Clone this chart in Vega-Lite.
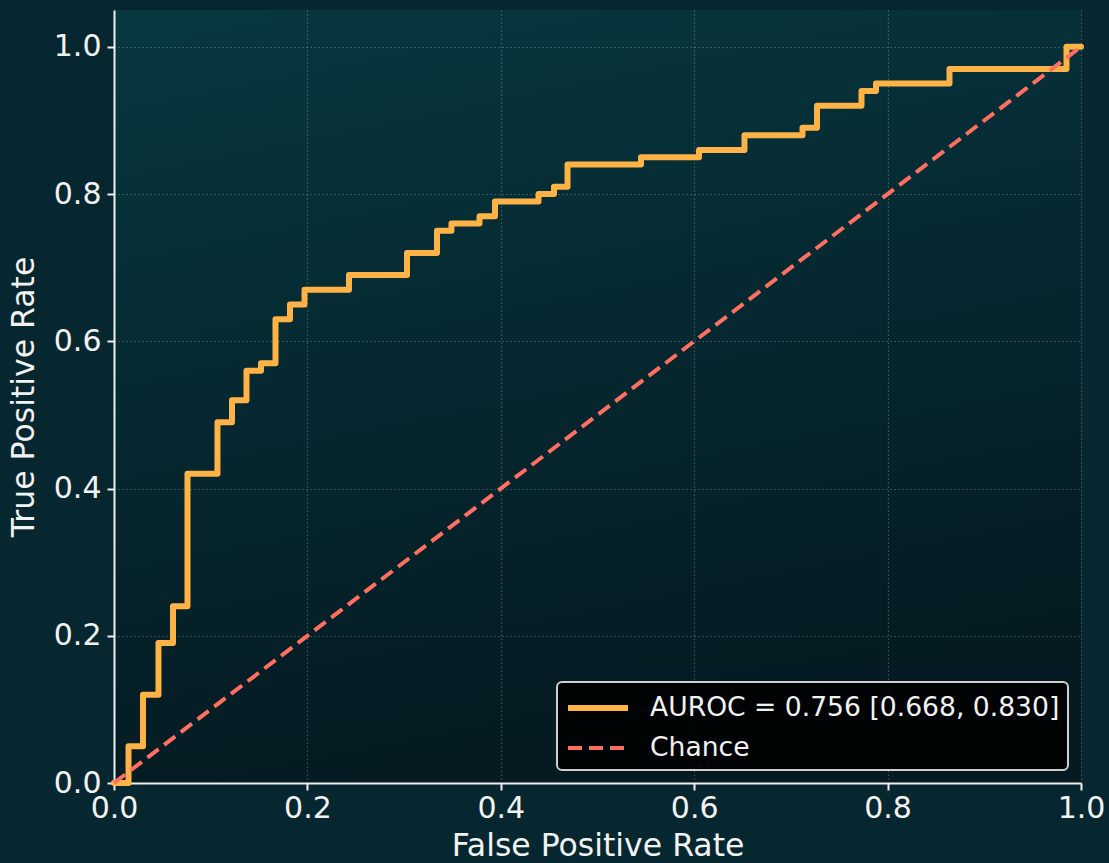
{
  "$schema": "https://vega.github.io/schema/vega-lite/v6.json",
  "width": 967,
  "height": 773,
  "autosize": {"type": "none"},
  "padding": {"left": 114, "top": 10, "right": 28, "bottom": 80},
  "background": "#06272f",
  "datasets": {
    "roc": [
      {"fpr": 0.0, "tpr": 0.0, "series": "AUROC = 0.756 [0.668, 0.830]"},
      {"fpr": 0.015, "tpr": 0.05, "series": "AUROC = 0.756 [0.668, 0.830]"},
      {"fpr": 0.030, "tpr": 0.12, "series": "AUROC = 0.756 [0.668, 0.830]"},
      {"fpr": 0.046, "tpr": 0.19, "series": "AUROC = 0.756 [0.668, 0.830]"},
      {"fpr": 0.061, "tpr": 0.24, "series": "AUROC = 0.756 [0.668, 0.830]"},
      {"fpr": 0.076, "tpr": 0.42, "series": "AUROC = 0.756 [0.668, 0.830]"},
      {"fpr": 0.107, "tpr": 0.49, "series": "AUROC = 0.756 [0.668, 0.830]"},
      {"fpr": 0.122, "tpr": 0.52, "series": "AUROC = 0.756 [0.668, 0.830]"},
      {"fpr": 0.137, "tpr": 0.56, "series": "AUROC = 0.756 [0.668, 0.830]"},
      {"fpr": 0.152, "tpr": 0.57, "series": "AUROC = 0.756 [0.668, 0.830]"},
      {"fpr": 0.167, "tpr": 0.63, "series": "AUROC = 0.756 [0.668, 0.830]"},
      {"fpr": 0.182, "tpr": 0.65, "series": "AUROC = 0.756 [0.668, 0.830]"},
      {"fpr": 0.197, "tpr": 0.67, "series": "AUROC = 0.756 [0.668, 0.830]"},
      {"fpr": 0.243, "tpr": 0.69, "series": "AUROC = 0.756 [0.668, 0.830]"},
      {"fpr": 0.303, "tpr": 0.72, "series": "AUROC = 0.756 [0.668, 0.830]"},
      {"fpr": 0.334, "tpr": 0.75, "series": "AUROC = 0.756 [0.668, 0.830]"},
      {"fpr": 0.349, "tpr": 0.76, "series": "AUROC = 0.756 [0.668, 0.830]"},
      {"fpr": 0.378, "tpr": 0.77, "series": "AUROC = 0.756 [0.668, 0.830]"},
      {"fpr": 0.394, "tpr": 0.79, "series": "AUROC = 0.756 [0.668, 0.830]"},
      {"fpr": 0.439, "tpr": 0.80, "series": "AUROC = 0.756 [0.668, 0.830]"},
      {"fpr": 0.455, "tpr": 0.81, "series": "AUROC = 0.756 [0.668, 0.830]"},
      {"fpr": 0.469, "tpr": 0.84, "series": "AUROC = 0.756 [0.668, 0.830]"},
      {"fpr": 0.545, "tpr": 0.85, "series": "AUROC = 0.756 [0.668, 0.830]"},
      {"fpr": 0.605, "tpr": 0.86, "series": "AUROC = 0.756 [0.668, 0.830]"},
      {"fpr": 0.652, "tpr": 0.88, "series": "AUROC = 0.756 [0.668, 0.830]"},
      {"fpr": 0.712, "tpr": 0.89, "series": "AUROC = 0.756 [0.668, 0.830]"},
      {"fpr": 0.727, "tpr": 0.92, "series": "AUROC = 0.756 [0.668, 0.830]"},
      {"fpr": 0.773, "tpr": 0.94, "series": "AUROC = 0.756 [0.668, 0.830]"},
      {"fpr": 0.788, "tpr": 0.95, "series": "AUROC = 0.756 [0.668, 0.830]"},
      {"fpr": 0.864, "tpr": 0.97, "series": "AUROC = 0.756 [0.668, 0.830]"},
      {"fpr": 0.985, "tpr": 1.0, "series": "AUROC = 0.756 [0.668, 0.830]"},
      {"fpr": 1.0, "tpr": 1.0, "series": "AUROC = 0.756 [0.668, 0.830]"}
    ],
    "chance": [
      {"fpr": 0.0, "tpr": 0.0, "series": "Chance"},
      {"fpr": 1.0, "tpr": 1.0, "series": "Chance"}
    ]
  },
  "encoding": {
    "x": {
      "field": "fpr", "type": "quantitative",
      "scale": {"domain": [0, 1], "nice": false, "zero": false},
      "axis": {"title": "False Positive Rate", "values": [0, 0.2, 0.4, 0.6, 0.8, 1.0], "format": ".1f", "labelFlush": false, "labelOverlap": false, "titlePadding": 7, "labelPadding": 3}
    },
    "y": {
      "field": "tpr", "type": "quantitative",
      "scale": {"domain": [0, 1.05], "nice": false, "zero": false},
      "axis": {"title": "True Positive Rate", "values": [0, 0.2, 0.4, 0.6, 0.8, 1.0], "format": ".1f", "labelFlush": false, "labelOverlap": false, "titlePadding": 13, "labelPadding": 6}
    },
    "color": {
      "field": "series", "type": "nominal",
      "scale": {"domain": ["AUROC = 0.756 [0.668, 0.830]", "Chance"], "range": ["#ffb347", "#ff6f61"]},
      "legend": {"title": null}
    },
    "strokeDash": {
      "field": "series", "type": "nominal",
      "scale": {"domain": ["AUROC = 0.756 [0.668, 0.830]", "Chance"], "range": [[1, 0], [14, 7]]},
      "legend": {"title": null}
    },
    "strokeWidth": {
      "field": "series", "type": "nominal",
      "scale": {"domain": ["AUROC = 0.756 [0.668, 0.830]", "Chance"], "range": [6, 4]},
      "legend": {"title": null}
    }
  },
  "layer": [
    {"data": {"name": "roc"}, "mark": {"type": "line", "interpolate": "step-after", "strokeCap": "round", "strokeJoin": "round", "clip": false}},
    {"data": {"name": "chance"}, "mark": {"type": "line", "clip": false}}
  ],
  "config": {
    "font": "DejaVu Sans",
    "view": {
      "stroke": null,
      "fill": {"gradient": "linear", "x1": 0, "y1": 0, "x2": 0.25, "y2": 1, "stops": [{"offset": 0, "color": "#073840"}, {"offset": 0.45, "color": "#062a32"}, {"offset": 1, "color": "#051a21"}]}
    },
    "axis": {
      "labelFont": "DejaVu Sans", "titleFont": "DejaVu Sans",
      "labelFontSize": 30, "titleFontSize": 31.5,
      "labelColor": "#f2f2f2", "titleColor": "#f2f2f2",
      "titleFontWeight": "normal",
      "domainColor": "#eeeeee", "domainWidth": 2,
      "tickColor": "#eeeeee", "tickWidth": 2, "tickSize": 7,
      "grid": true, "gridColor": "#9ab4b8", "gridOpacity": 0.4, "gridDash": [1.5, 2.5], "gridWidth": 1.2
    },
    "legend": {
      "orient": "bottom-right",
      "offset": 13,
      "fillColor": "rgba(0,0,0,0.88)",
      "strokeColor": "#cfcfcf",
      "strokeWidth": 2,
      "cornerRadius": 5,
      "padding": 8,
      "titlePadding": 0,
      "symbolType": "M-1,0H3",
      "symbolSize": 900,
      "labelFont": "DejaVu Sans",
      "labelFontSize": 26.6,
      "labelColor": "#f2f2f2",
      "labelLimit": 0,
      "labelOffset": 49,
      "rowPadding": 9
    }
  }
}
